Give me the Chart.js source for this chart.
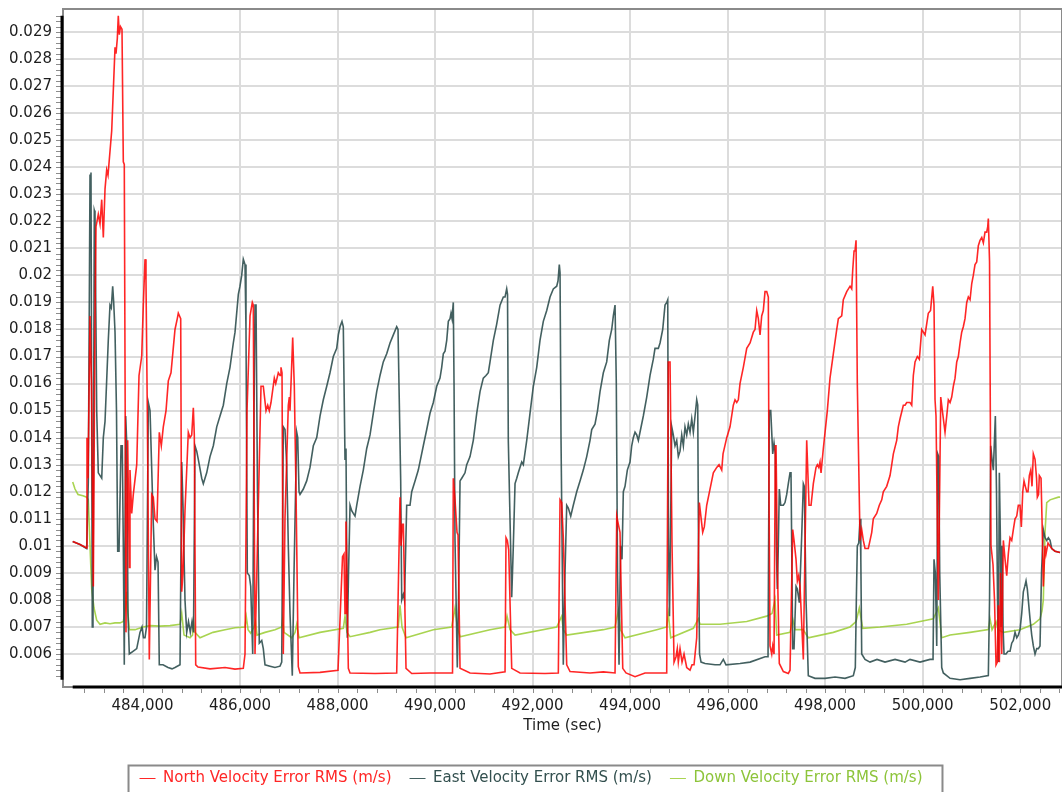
<!doctype html>
<html lang="en">
<head>
  <meta charset="utf-8">
  <title>Velocity Error RMS</title>
  <script src="https://cdn.jsdelivr.net/npm/chart.js@4.4.1/dist/chart.umd.min.js"></script>
  <style>
    html, body { margin: 0; padding: 0; background: #fff; overflow: hidden; }
    #wrap { width: 1062px; height: 792px; overflow: hidden; }
    #chart { display: block; }
  </style>
</head>
<body>
<div id="wrap">
  <canvas id="chart" width="1062" height="796"></canvas>
</div>
<script>
// time (sec) and RMS (m/s) for each series
var northT = [
  482568,482718,482855,482861,482882,482923,482954,482991,483025,483046,
  483093,483128,483163,483196,483231,483265,483292,483368,483436,483456,
  483483,483503,483524,483548,483579,483606,483626,483661,483696,483729,
  483743,483778,483811,483881,483928,483983,484016,484051,484071,484098,
  484139,484188,484221,484256,484297,484344,484385,484426,484482,484529,
  484584,484625,484666,484713,484734,484783,484804,484830,484871,484939,
  484974,485009,485042,485062,485091,485138,485384,485692,485897,486067,
  486102,486143,486205,486252,486272,486307,486369,486430,486477,486533,
  486568,486600,486635,486703,486732,486785,486820,486840,486861,486887,
  486922,486990,487011,487025,487080,487113,487148,487195,487230,487640,
  488009,488102,488132,488153,488173,488221,488256,488768,489213,489281,
  489302,489328,489349,489404,489521,489896,490358,490374,490409,490450,
  490471,490512,490717,491127,491435,491455,491482,491510,491572,491742,
  492255,492528,492563,492597,492630,492700,492768,493178,493451,493691,
  493726,493758,493793,493849,493916,494101,494306,494751,494784,494819,
  494860,494901,494942,494968,494989,495024,495065,495106,495161,495229,
  495270,495311,495366,495393,495420,495489,495522,495571,495639,495707,
  495777,495824,495879,495906,495982,496049,496117,496152,496187,496220,
  496254,496322,496392,496460,496527,496562,496597,496630,496665,496699,
  496732,496767,496802,496835,496849,496870,496905,496925,496952,496978,
  496993,497024,497060,497143,497245,497280,497335,497362,497403,497430,
  497458,497485,497553,497588,497622,497670,497711,497758,497813,497840,
  497869,497895,497916,497963,498045,498100,498168,498238,498271,498340,
  498373,498443,498511,498545,498566,498593,498613,498634,498660,498716,
  498750,498783,498818,498865,498886,498956,498988,499058,499111,499161,
  499193,499263,499331,499366,499399,499468,499501,499536,499604,499639,
  499673,499706,499741,499776,499809,499844,499891,499932,499981,500014,
  500049,500116,500162,500207,500233,500254,500274,500322,500371,500397,
  500459,500494,500527,500562,500596,500629,500664,500699,500732,500767,
  500801,500834,500869,500904,500937,500972,501007,501039,501074,501109,
  501142,501177,501212,501245,501279,501314,501335,501347,501372,501402,
  501443,501474,501505,501532,501552,501573,501597,501622,501655,501690,
  501724,501757,501792,501827,501860,501895,501930,501962,501997,502024,
  502053,502079,502106,502135,502161,502188,502217,502243,502270,502305,
  502336,502352,502377,502393,502428,502448,502475,502510,502530,502571,
  502647,502715,502818
];
var northV = [
  .01016,.01005,.00992,.0140,.0125,.0185,.0160,.0085,.0185,.0218,
  .02226,.0219,.0228,.0214,.0232,.0239,.0237,.02535,.02843,.0282,
  .02876,.0296,.0289,.0292,.0291,.0242,.0241,.0068,.0139,.0092,
  .0128,.0112,.0119,.0130,.0163,.0170,.0189,.0206,.0198,.0150,
  .0058,.0119,.0118,.0110,.0109,.0142,.0137,.0144,.0150,.0161,
  .0164,.0172,.0180,.0184,.0186,.0184,.0083,.0090,.0113,.0142,
  .0140,.0141,.0151,.0141,.0056,.00552,.00545,.0055,.00544,.00547,
  .0060,.0150,.0185,.0190,.0189,.0060,.0110,.0159,.0159,.0150,
  .0152,.0150,.0153,.0162,.0160,.0164,.0163,.0166,.0164,.0060,
  .0110,.0152,.0155,.0150,.0177,.0159,.0120,.00553,.0053,.00532,
  .0054,.0096,.0097,.0075,.0109,.00547,.0053,.00528,.0053,.0118,
  .0100,.0108,.0108,.00547,.00528,.0053,.0053,.0125,.0117,.0105,
  .0104,.00547,.0053,.00526,.00534,.0103,.0102,.00985,.00547,.0053,
  .00528,.0053,.0117,.0116,.0103,.0056,.00535,.0053,.00534,.0053,
  .0111,.0108,.0105,.00547,.0053,.00516,.0053,.0053,.0168,.0168,
  .0100,.0057,.0059,.0062,.0057,.0062,.0057,.0060,.0055,.0054,
  .0056,.0056,.0066,.0090,.0116,.0105,.0107,.0115,.0121,.0127,
  .0129,.0130,.0128,.0134,.0140,.0144,.0152,.0154,.0153,.0154,
  .0160,.0166,.0173,.0175,.0179,.0180,.0187,.0184,.0178,.0185,
  .0187,.0194,.0194,.0192,.0120,.0063,.0060,.0063,.0060,.0137,
  .0137,.0090,.00565,.00535,.00528,.0054,.0106,.0102,.0095,.0087,
  .0089,.0085,.0058,.0100,.0139,.0115,.0115,.0123,.0129,.0130,
  .0129,.0131,.0127,.0136,.0150,.0162,.0171,.0180,.0184,.0185,
  .0191,.0194,.0196,.0195,.0202,.0209,.0209,.0213,.0160,.0102,
  .0106,.0102,.0099,.0099,.0099,.0105,.0110,.0112,.0115,.0117,
  .0120,.0122,.0126,.0130,.0134,.0139,.0144,.0147,.0152,.0152,
  .0153,.0153,.0153,.0152,.0163,.0168,.0170,.0169,.0180,.0179,
  .0178,.0186,.0187,.0196,.0189,.0154,.0148,.0080,.0155,.0151,
  .0142,.0148,.0154,.0153,.0155,.0159,.0162,.0168,.0170,.0175,
  .0179,.0181,.0184,.0190,.0192,.0191,.0197,.0200,.0204,.0205,
  .0211,.0213,.0214,.0212,.0216,.0216,.0218,.0221,.0205,.0100,
  .0093,.0080,.0056,.0057,.0078,.0057,.0090,.0060,.0102,.0095,
  .0089,.0097,.0103,.0102,.0106,.0110,.0111,.0115,.0115,.0107,
  .0120,.0124,.0122,.0120,.0120,.0126,.0128,.0122,.0134,.0132,
  .0125,.0118,.0119,.0126,.0125,.0110,.0085,.0100,.0097,.0101,
  .0099,.0098,.00975
];

var eastT = [
  482568,482718,482855,482888,482923,482943,482970,482984,483011,483025,
  483060,483093,483163,483196,483231,483298,483333,483360,483388,483409,
  483436,483466,483491,483518,483559,483585,483606,483626,483655,483676,
  483702,483729,483805,483881,483948,483989,484020,484051,484082,484119,
  484154,484221,484256,484287,484318,484344,484420,484523,484605,484666,
  484769,484804,484830,484871,484906,484943,484980,485015,485046,485076,
  485111,485144,485214,485247,485316,485384,485452,485522,485589,485657,
  485727,485794,485862,485897,485965,485999,486034,486067,486102,486122,
  486149,486190,486219,486260,486287,486307,486328,486358,486395,486445,
  486477,486512,486615,486717,486820,486855,486887,486922,486957,486990,
  487025,487072,487107,487162,487183,487210,487230,487298,487367,487435,
  487503,487573,487640,487708,487778,487845,487913,487983,488016,488050,
  488091,488118,488153,488173,488200,488225,488256,488290,488323,488358,
  488393,488461,488528,488598,488666,488733,488803,488871,488938,489008,
  489076,489144,489213,489240,489295,489316,489349,489373,489418,489486,
  489521,489589,489656,489759,489829,489896,489964,490034,490101,490136,
  490169,490204,490239,490272,490307,490327,490348,490374,490389,490409,
  490456,490481,490512,490547,490614,490649,490717,490784,490854,490922,
  490989,491045,491092,491127,491195,491264,491332,491400,491435,491469,
  491486,491502,491537,491572,491605,491640,491675,491707,491777,491810,
  491880,491947,492015,492085,492152,492220,492290,492358,492425,492495,
  492522,492548,492563,492583,492630,492665,492700,492733,492782,492835,
  492905,492973,493040,493110,493178,493213,493280,493332,493383,493451,
  493520,493574,493623,493656,493691,493717,493742,493773,493803,493834,
  493861,493896,493943,493998,494033,494066,494101,494136,494169,494203,
  494271,494341,494409,494476,494511,494579,494614,494669,494716,494751,
  494772,494788,494808,494854,494886,494921,494956,494989,495024,495059,
  495092,495126,495161,495194,495229,495264,495297,495332,495366,495387,
  495403,495424,495455,495537,495742,495844,495912,495967,496254,496460,
  496767,496829,496855,496884,496925,496952,496978,496999,497019,497040,
  497060,497089,497143,497177,497212,497245,497280,497300,497335,497362,
  497403,497430,497471,497520,497553,497573,497608,497655,497793,497998,
  498203,498408,498578,498619,498640,498660,498689,498716,498732,498750,
  498818,498921,499064,499228,499434,499639,499741,499946,500151,500213,
  500233,500260,500289,500309,500330,500350,500391,500424,500562,500767,
  500972,501177,501347,501372,501396,501423,501450,501491,501515,501536,
  501552,501573,501597,501608,501628,501649,501669,501710,501751,501792,
  501827,501860,501895,501930,501962,501997,502032,502065,502094,502120,
  502147,502167,502202,502237,502270,502305,502340,502373,502407,502438,
  502475,502510,502545,502578,502613,502647,502715,502818
];
var eastV = [
  .01016,.01005,.0099,.0124,.0237,.0238,.0070,.0071,.0224,.0223,
  .0150,.0127,.0125,.0140,.0146,.0176,.0189,.0188,.0196,.0190,
  .0179,.0150,.0098,.0098,.0137,.0137,.0100,.0056,.0148,.0138,
  .0075,.0060,.0061,.0062,.0068,.0070,.0066,.0066,.0070,.0153,
  .0150,.0108,.0091,.0096,.0094,.0056,.0056,.0055,.00545,.0055,
  .0056,.0131,.0115,.0080,.0068,.0072,.0068,.0072,.0068,.0137,
  .0135,.0132,.0125,.0123,.0127,.0133,.0137,.0144,.0148,.0152,
  .0160,.0166,.0175,.0179,.0193,.0196,.0200,.0206,.0204,.0180,
  .0090,.0089,.0085,.0060,.0150,.0189,.0189,.0120,.0064,.0065,
  .0062,.0056,.00555,.0055,.00555,.0057,.0144,.0143,.0130,.0100,
  .0075,.0052,.0090,.0142,.0140,.0120,.0119,.0121,.0124,.0129,
  .0137,.0140,.0148,.0154,.0159,.0164,.0170,.0173,.0178,.0181,
  .0183,.0181,.0132,.0136,.0066,.0090,.0115,.0113,.0112,.0111,
  .0115,.0122,.0128,.0136,.0141,.0149,.0157,.0163,.0168,.0171,
  .0175,.0178,.0181,.0180,.0124,.0080,.0082,.0080,.0115,.0115,
  .0120,.0124,.0128,.0137,.0143,.0149,.0153,.0159,.0162,.0166,
  .0171,.0172,.0176,.0183,.0184,.0186,.0184,.0190,.0160,.0102,
  .0055,.0080,.0124,.0125,.0127,.0130,.0133,.0139,.0149,.0157,
  .0162,.0163,.0164,.0168,.0176,.0182,.0189,.0192,.0192,.0195,
  .0193,.0139,.0110,.0081,.0100,.0123,.0125,.0127,.0131,.0130,
  .0139,.0149,.0159,.0166,.0176,.0183,.0187,.0192,.0195,.0196,
  .0198,.0204,.0201,.0140,.0056,.0090,.0115,.0114,.0111,.0115,
  .0120,.0124,.0128,.0133,.0139,.0143,.0145,.0150,.0157,.0164,
  .0168,.0176,.0180,.0185,.0189,.0160,.0090,.0056,.0100,.0095,
  .0120,.0122,.0128,.0131,.0137,.0140,.0142,.0141,.0139,.0142,
  .0148,.0155,.0163,.0169,.0173,.0173,.0175,.0180,.0189,.0190,
  .0191,.0100,.0074,.0144,.0141,.0137,.0139,.0133,.0135,.0141,
  .0137,.0144,.0141,.0145,.0142,.0147,.0142,.0148,.0154,.0152,
  .0100,.0060,.0057,.00565,.0056,.0056,.0058,.0056,.00565,.0057,
  .0059,.0059,.0150,.0150,.0134,.0138,.0134,.0100,.0084,.0100,
  .0121,.0115,.0115,.0116,.0119,.0123,.0127,.0127,.0062,.0062,
  .0085,.0084,.0079,.0104,.0123,.0122,.0080,.0052,.0051,.0051,
  .00515,.0051,.0052,.0055,.0080,.0100,.0101,.0110,.0095,.0060,
  .0058,.0057,.0058,.0057,.0058,.0057,.0058,.0057,.0058,.0058,
  .0095,.0090,.0063,.0134,.0133,.0090,.0055,.0053,.0051,.00505,
  .0051,.00515,.0052,.0080,.0137,.0132,.0128,.0148,.0120,.0080,
  .0057,.0127,.0100,.0070,.0100,.0070,.0060,.0060,.0061,.0061,
  .0064,.0065,.0068,.0066,.0067,.0069,.0075,.0083,.0085,.0087,
  .0084,.0080,.0073,.0067,.0063,.0060,.0062,.0062,.0063,.0090,
  .0106,.0103,.0102,.0103,.0102,.0099,.0098,.00975
];

var downT = [
  482568,482615,482677,482779,482855,482888,482923,482958,483005,483060,
  483128,483231,483333,483436,483538,483606,483641,483676,483692,483729,
  483846,484010,484154,484359,484564,484769,484804,484851,484974,485025,
  485046,485076,485179,485446,485692,485897,486102,486129,486164,486219,
  486287,486317,486348,486512,486717,486855,486875,486902,487060,487128,
  487162,487210,487640,488118,488153,488194,488256,488666,488871,489246,
  489281,489322,489404,489964,490341,490409,490456,490512,491127,491435,
  491476,491537,491640,492495,492597,492630,492700,493451,493691,493758,
  493803,493896,494546,494751,494784,494833,495297,495399,495434,495844,
  496392,496802,496911,496972,497007,497280,497335,497383,497547,497655,
  498168,498511,498634,498701,498771,499126,499673,499946,500219,500322,
  500391,500562,500972,501347,501382,501423,501505,501546,501655,501997,
  502270,502407,502448,502475,502510,502545,502613,502783,502818
];
var downV = [
  .01236,.0121,.0119,.01185,.0118,.0117,.0100,.0084,.0077,.00725,
  .0071,.00715,.00712,.00715,.00715,.0072,.0076,.0083,.0077,.0069,
  .0069,.0070,.00705,.00703,.00705,.0071,.0075,.0067,.0066,.0067,
  .0072,.0068,.0066,.0068,.0069,.00697,.0070,.00737,.0069,.00677,
  .0070,.0072,.0067,.0068,.0069,.0070,.0073,.0068,.0066,.0068,
  .0071,.0066,.0068,.00695,.0074,.0068,.00664,.0068,.0069,.0070,
  .0078,.0070,.0066,.0069,.0070,.0077,.0070,.00664,.0069,.0070,
  .0074,.0069,.0067,.0070,.0074,.0069,.0067,.0069,.0070,.0076,
  .0069,.0066,.0069,.0070,.0075,.0066,.00695,.0073,.0071,.0071,
  .0072,.0074,.0075,.0080,.0067,.0068,.0073,.0069,.0069,.0066,
  .0068,.0070,.0072,.0077,.00695,.0070,.0071,.0072,.0073,.0077,
  .0066,.0067,.0068,.0069,.0073,.0069,.0072,.0069,.0068,.0069,
  .0071,.0073,.0076,.0080,.0105,.0116,.0117,.0118,.0118
];

var yTicks = [0.006,0.007,0.008,0.009,0.01,0.011,0.012,0.013,0.014,0.015,0.016,0.017,
              0.018,0.019,0.02,0.021,0.022,0.023,0.024,0.025,0.026,0.027,0.028,0.029];
var xTicks = [484000,486000,488000,490000,492000,494000,496000,498000,500000,502000];

var names = ["North Velocity Error RMS (m/s)", "East Velocity Error RMS (m/s)", "Down Velocity Error RMS (m/s)"];
var lineColors = ["rgba(255,0,0,0.85)", "rgba(47,79,79,0.9)", "rgba(154,205,50,0.85)"];
var textColors = ["#ff2626", "#33504f", "#8dc43a"];

function pairs(ts, vs) {
  return ts.map(function (t, i) { return { x: t, y: vs[i] }; });
}

// gray plot frame, black axis lines over the data range, minor ticks, legend box
var axisFrame = {
  id: "axisFrame",
  afterDraw: function (chart) {
    var ctx = chart.ctx, a = chart.chartArea;
    var x = chart.scales.x, y = chart.scales.y;
    var ts = northT.concat(eastT, downT), vs = northV.concat(eastV, downV);
    var tMin = Math.min.apply(null, ts), tMax = Math.max.apply(null, ts);
    var vMin = Math.min.apply(null, vs), vMax = Math.max.apply(null, vs);
    ctx.save();
    ctx.strokeStyle = "#8a8a8a";
    ctx.lineWidth = 2;
    ctx.strokeRect(a.left, a.top, a.right - a.left, a.bottom - a.top);

    ctx.strokeStyle = "#8c8c8c";
    ctx.lineWidth = 1;
    ctx.beginPath();
    for (var k = Math.ceil(vMin / 0.0002); k * 0.0002 <= vMax; k++) {
      var py = Math.round(y.getPixelForValue(k * 0.0002)) + 0.5;
      ctx.moveTo(a.left - 7, py);
      ctx.lineTo(a.left - 2, py);
    }
    for (var j = Math.ceil(tMin / 400); j * 400 <= tMax; j++) {
      var px = Math.round(x.getPixelForValue(j * 400)) + 0.5;
      ctx.moveTo(px, a.bottom + 2);
      ctx.lineTo(px, a.bottom + 6);
    }
    ctx.stroke();

    ctx.strokeStyle = "#000";
    ctx.lineWidth = 3;
    ctx.beginPath();
    ctx.moveTo(a.left - 1, y.getPixelForValue(vMax));
    ctx.lineTo(a.left - 1, y.getPixelForValue(vMin));
    ctx.moveTo(x.getPixelForValue(tMin), a.bottom);
    ctx.lineTo(a.right, a.bottom);
    ctx.stroke();

    var hb = chart.legend.legendHitBoxes;
    if (hb && hb.length) {
      var first = hb[0], last = hb[hb.length - 1];
      var cy = first.top + first.height / 2;
      var left = first.left - 11, right = last.left + last.width + 20;
      ctx.strokeStyle = "#8a8a8a";
      ctx.lineWidth = 2;
      ctx.strokeRect(left, cy - 13, right - left, 40);
    }
    ctx.restore();
  }
};

Chart.defaults.font.family = "'DejaVu Sans', sans-serif";
Chart.defaults.font.size = 15;
Chart.defaults.color = "#1e1e1e";

var ctx = document.getElementById("chart").getContext("2d");
var chart = new Chart(ctx, {
  type: "line",
  data: {
    datasets: [
      { label: names[0], data: pairs(northT, northV), borderColor: lineColors[0], backgroundColor: lineColors[0] },
      { label: names[1], data: pairs(eastT, eastV), borderColor: lineColors[1], backgroundColor: lineColors[1] },
      { label: names[2], data: pairs(downT, downV), borderColor: lineColors[2], backgroundColor: lineColors[2] }
    ]
  },
  options: {
    responsive: false,
    animation: false,
    devicePixelRatio: 1,
    layout: { padding: { top: 9, left: 0, right: 0, bottom: 0 } },
    elements: {
      line: { borderWidth: 1.6, tension: 0, fill: false },
      point: { radius: 0, hoverRadius: 0 }
    },
    scales: {
      x: {
        type: "linear",
        min: 482369,
        max: 502858,
        afterBuildTicks: function (s) { s.ticks = xTicks.map(function (v) { return { value: v }; }); },
        afterFit: function (s) { s.height = 66; s.paddingLeft = 0; s.paddingRight = 0; },
        ticks: {
          autoSkip: false,
          maxRotation: 0,
          padding: 10,
          callback: function (v) { return v.toLocaleString("en-US"); }
        },
        grid: { color: "#dcdcdc", lineWidth: 2, drawTicks: false },
        border: { display: false },
        title: { display: true, text: "Time (sec)", padding: { top: 0, bottom: 18 } }
      },
      y: {
        type: "linear",
        min: 0.00478,
        max: 0.02985,
        afterBuildTicks: function (s) { s.ticks = yTicks.map(function (v) { return { value: v }; }); },
        afterFit: function (s) { s.width = 63; s.paddingTop = 0; s.paddingBottom = 0; },
        ticks: {
          padding: 11,
          callback: function (v) { return String(Number(v.toFixed(3))); }
        },
        grid: { color: "#dcdcdc", lineWidth: 2, drawTicks: false },
        border: { display: false }
      }
    },
    plugins: {
      tooltip: { enabled: false },
      legend: {
        position: "bottom",
        labels: {
          usePointStyle: true,
          pointStyle: "line",
          pointStyleWidth: 16,
          padding: 18,
          generateLabels: function (c) {
            var items = Chart.defaults.plugins.legend.labels.generateLabels(c);
            items.forEach(function (it) { it.fontColor = textColors[it.datasetIndex]; });
            return items;
          }
        }
      }
    }
  },
  plugins: [axisFrame]
});
</script>
</body>
</html>
